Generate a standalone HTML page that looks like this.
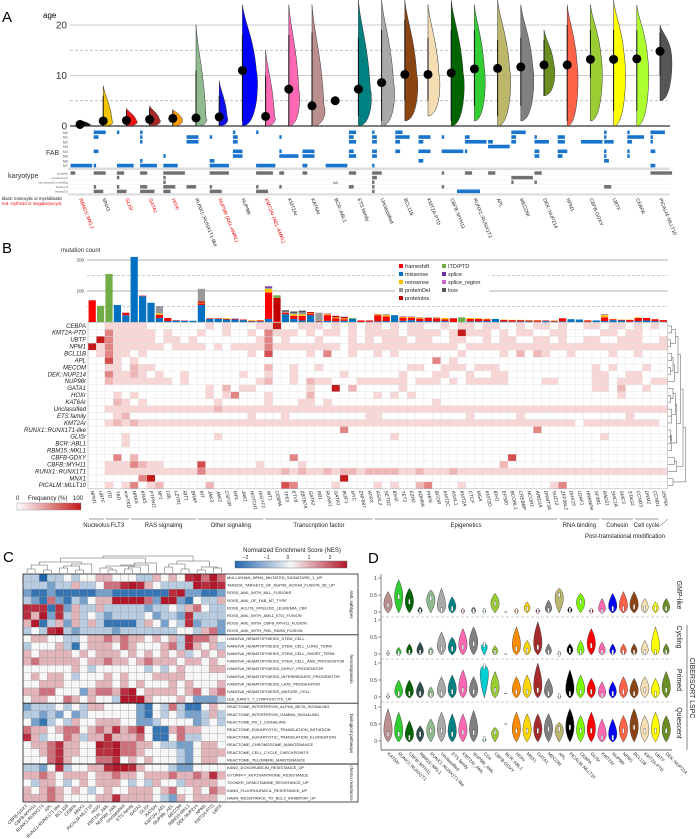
<!DOCTYPE html>
<html><head><meta charset="utf-8"><style>
html,body{margin:0;padding:0;background:#fff;}
svg{display:block;font-family:"Liberation Sans",sans-serif;}
</style></head><body>
<svg id="fig" width="697" height="839" viewBox="0 0 697 839" xmlns="http://www.w3.org/2000/svg"></svg>
<script>
// ---------- Panel A data ----------
const aGroups=["RBM15::MKL1","MNX1","GLISr","GATA1","HOXr","RUNX1::RUNX1T1-like","NUP98r (AEL-AMKL)","NUP98r","KMT2Ar (AEL-AMKL)","KMT2Ar","KAT6Ar","BCR::ABL1","ETS family","Unclassified","BCL11B","KMT2A-PTD","CBFB::MYH11","RUNX1::RUNX1T1","APL","MECOM","DEK::NUP214","NPM1","CBFB-GDXY","UBTF","CEBPA","PICALM::MLLT10"];
const aRed=[1,0,1,1,1,0,1,0,1,0,0,0,0,0,0,0,0,0,0,0,0,0,0,0,0,0];
const aColors=["#111","#f5c400","#ee1111","#a52a2a","#ff9900","#8fbc8f","#1010ee","#0000ff","#ff69b4","#ff69b4","#bc8f8f","#000","#008080","#a9a9a9","#8b4513","#f5deb3","#006400","#32cd32","#bdb76b","#808080","#6b8e23","#ff6347","#9acd32","#ffff00","#adff2f","#555555"];
const aMed=[0.3,1,1.1,1.3,1.5,1.6,1.8,11,1.9,7.3,4,5,7.3,8.6,10.2,10.2,10.5,11.3,11.4,11.7,12.1,12.1,13.2,13.2,13.3,14.8];
const aLo=[0,0,0,0,0,0,0,1,0,0,0,5,2,1,5,5,1,4,2,4,6,1,9.5,3,3,10];
const aHi=[1,6,3,3.5,3,11,6,18,10,18,18.5,5,17.5,19,21,17.5,19,19,17,17.5,17,20,19,19,19,18.5];
const aVlo=[0,0,0,0,0,0,0,0,0,0,0,0,0,0,1,2,0,1,0,1,6,0,1,0,0,5];
const aVhi=[1.2,8,3.5,4,3.3,20,9,24,15,24,24,0,25,25,25,24,25,24,25,24,19,24,24,25,24,20];
const aVw=[10,9,10,10,9,10,8,14,9,10,12,0,12,12,12,11,12,10,12,12,10,10,11,11,11,11];
const fabRows=["M0","M1","M2","M3","M4","M5","M6","M7"];
const fabData=["00000009","52002001","10000007","11100017","00000106","05500000","01000028","12204400","10000008","01001800","00005502","00000009","32302300","12202201","36202000","05205020","01009000","02901000","00290000","62200000","01602200","03304200","00900000","11401120","17201100","61102002"];
const karyRows=["complex","monosomy7","monosomy5 or del(5q)","trisomy 8","trisomy21"];
const karyData=["20000","50014","31014","30036","91153","00040","80015","00000","70015","20010","20000","00000","30020","42111","00000","00000","10010","30000","30000","09100","30100","00000","00000","00030","00000","90000"];
const aTicks=[0,10,20];
// ---------- Panel B data ----------
const bGenes=["NPM1","UBTF","ITD","TKD","nonTKD","NRAS","KRAS","PTPN11","NF1","CBL","LZTR1","RIT1","BRAF","KIT","JAK3","JAK2","CSF3R","MPL","JAK1","NOTCH1","GIGYF2","WT1","CEBPA","TP53","ETV6","ZBTB7A","GATA2","RB1","RUNX1","GATA1","IKZF1","MYC","ZNF687","ATRX","ASXL2","SETD2","IDH2","TET2","EZH2","KDM6A","PHF6","BCOR","KMT2C","ASXL1","KMT2A","CTCF","MGA","KMT2D","IDH1","EP300","BCORL1","CREBBP","NCOR1","ARID1A","DNMT3A","SUZ12","ZFP36L2","DHX15","U2AF1","HNRNPK","SF3B1","RAD21","SMC1A","SMC3","STAG2","CCND3","DNM2","CCND1","USP9X"];
const bMissense=[0,0,0,55,22,210,83,62,13,3,4,4,4,55,10,10,8,8,6,2,2,10,0,25,10,5,22,2,4,2,4,10,0,1,2,3,22,4,6,3,3,2,3,0,0,2,2,3,10,2,1,2,2,1,3,1,2,9,8,1,5,3,6,5,1,3,5,3,1];
const bFrameshift=[70,0,0,0,5,0,2,0,10,10,1,1,0,5,2,2,2,2,2,2,3,85,3,5,10,15,5,2,18,10,5,0,5,4,20,15,0,10,8,8,10,10,6,12,0,8,8,6,0,5,5,4,3,4,2,3,10,0,0,4,0,12,3,2,6,10,8,6,5];
const bNonsense=[0,0,0,0,0,0,0,0,5,0,0,0,0,2,0,0,2,0,0,2,1,12,0,0,5,5,2,1,3,3,3,0,0,0,3,4,0,3,3,3,1,2,4,0,0,3,2,2,0,1,1,1,1,1,0,1,0,0,0,1,0,7,1,1,1,2,0,0,0];
const bProtIns=[0,0,0,0,3,0,0,0,0,0,0,0,0,5,0,0,0,0,0,0,0,0,75,0,0,0,3,0,1,5,4,0,0,0,0,0,0,0,0,0,0,0,0,0,0,0,0,0,0,0,0,0,0,0,0,0,0,0,0,0,0,0,0,0,0,0,0,0,0];
const bProtDel=[0,0,0,0,0,0,0,0,20,0,0,0,0,40,0,0,0,0,0,0,0,3,0,3,4,6,0,25,0,0,0,0,0,0,0,2,0,1,0,0,0,0,0,1,0,0,0,0,0,0,0,0,0,0,0,0,0,0,0,0,0,2,0,0,0,0,0,0,0];
const bLoss=[0,0,0,0,0,0,0,0,0,0,0,0,0,0,0,0,0,0,0,0,0,0,0,5,5,5,0,0,0,0,0,0,0,0,0,0,0,0,0,0,0,0,0,0,0,0,0,0,0,0,0,0,0,0,0,0,0,0,0,0,0,0,0,0,0,0,0,0,0];
const bItd=[0,52,155,0,0,0,0,0,0,0,0,0,0,0,0,0,0,0,0,0,0,0,8,0,0,0,0,0,0,0,0,3,0,0,0,0,0,0,0,0,0,0,0,0,15,0,0,0,0,0,0,0,0,0,0,0,0,0,0,0,0,0,0,0,0,0,0,0,0];
const bSplice=[0,0,0,0,0,0,0,0,2,0,1,0,0,0,0,0,0,1,0,0,0,5,0,0,0,1,0,0,1,0,1,0,0,0,1,1,0,1,1,1,1,1,0,0,0,0,0,0,0,0,0,0,0,0,0,0,0,0,0,0,0,1,0,0,0,0,0,0,0];
const bRows=["CEBPA","KMT2A-PTD","UBTF","NPM1","BCL11B","APL","MECOM","DEK::NUP214","NUP98r","GATA1","HOXr","KAT6Ar","Unclassified","ETS family","KMT2Ar","RUNX1::RUNX1T1-like","GLISr","BCR::ABL1","RBM15::MKL1","CBFB-GDXY","CBFB::MYH11","RUNX1::RUNX1T1","MNX1","PICALM::MLLT10"];
const bFreq=[
"0011111000"+"0000101000"+"1150011101"+"0101101011"+"0010110110"+"0101101001"+"101101010",
"0031111101"+"0001001001"+"0311101011"+"0101111011"+"1101511101"+"0110011000"+"011011000",
"0531111101"+"1010000000"+"1301000100"+"0101011101"+"1001100101"+"1001101001"+"100111001",
"5131111110"+"1111010111"+"1311111111"+"0111111111"+"1111011111"+"1111111111"+"111111111",
"0131101000"+"0000000001"+"0400001030"+"0100101000"+"0000100001"+"0202100100"+"001001000",
"0041010000"+"0000000000"+"0000000000"+"0000000000"+"0301000000"+"0000000000"+"000000000",
"0011021100"+"0000000000"+"0200100100"+"0000000011"+"0011101110"+"0000000000"+"101000100",
"0031121010"+"0100000010"+"0100100000"+"1000000100"+"0110010011"+"0000000000"+"110011000",
"0021111111"+"0100000000"+"1200102110"+"0011111101"+"1101011111"+"0000110000"+"110111011",
"0000000000"+"0000102011"+"0000001005"+"0200000100"+"0000000000"+"0000000000"+"110200100",
"0001010000"+"0000101300"+"0100002000"+"0000101010"+"0000000000"+"0000000000"+"000100000",
"0002101000"+"0000010000"+"0100011010"+"0000000000"+"0100000000"+"0000000000"+"000000000",
"0011111111"+"1111121111"+"1111111111"+"1111111111"+"1111111111"+"1111111111"+"111111111",
"0001200000"+"0000000001"+"0001000000"+"0001100000"+"0000010000"+"0100000000"+"000010000",
"0012121111"+"1111111111"+"1111111111"+"1111111111"+"1111111111"+"1111111101"+"111111110",
"0000000000"+"0000000000"+"0000000000"+"3000000000"+"0000000000"+"0003000000"+"000000000",
"0000100000"+"0000010000"+"0000000000"+"0000001000"+"0000000000"+"0000000000"+"010000000",
"0000100000"+"0000000000"+"0000000000"+"0000000000"+"0000000000"+"0000000000"+"000000000",
"0000000000"+"0000000000"+"0000000000"+"0000000000"+"0000000000"+"0000000000"+"000000000",
"0003020000"+"0000000000"+"0000300000"+"0000000000"+"0000000000"+"4000000000"+"000000000",
"0011132110"+"0004000000"+"1000010000"+"0000000000"+"0000000002"+"0000000000"+"000000000",
"0011111111"+"1113111111"+"1112121121"+"2212222112"+"1112111111"+"1111111111"+"111111111",
"0000003500"+"0000000000"+"0000000000"+"5000000000"+"0000000000"+"0000000000"+"000000000",
"0010130120"+"0000200000"+"0004300001"+"0000101002"+"3000100000"+"0000013000"+"000000000"];
const bCategories=["Nucleolus","FLT3","RAS signaling","Other signaling","Transcription factor","Epigenetics","RNA binding","Cohesin","Cell cycle"];
const bCatStart=[0,2,5,13,21,34,56,61,65];
const bCatEnd=[1,4,12,20,33,55,60,64,67];
const bTicks=[100,200];
const bRowDendro=[3,6,2,8,3,4,2,5,10,4,2,6,3,3,7,2,2,3,12,5,7,14,4];
// ---------- Panel C data ----------
const cCols=["CBFB-GDXY","CBFB-MYH11","RUNX1-RUNX1T1","APL","RUNX1-RUNX1T1-like","BCL11B","CEBPA","MNX1","PICALM-MLLT10","HOXr","KMT2Ar_AML","NUP98r_AML","Unclassified","ETS family","GATA1","GLISr","KAT6Ar","KMT2Ar_AEL","NUP98r_AEL","MECOM","RBM15-MKL1","DEK-NUP214","NPM1","KMT2A-PTD","UBTF"];
const cRows=["MULLIGHAN_NPM1_MUTATED_SIGNATURE_1_UP","TAKEDA_TARGETS_OF_NUP98_HOXA9_FUSION_3D_UP","ROSS_AML_WITH_MLL_FUSIONS","ROSS_AML_OF_FAB_M7_TYPE","ROSS_ACUTE_MYELOID_LEUKEMIA_CBF","ROSS_AML_WITH_AML1_ETO_FUSION","ROSS_AML_WITH_CBFB_MYH11_FUSION","ROSS_AML_WITH_PML_RARA_FUSION","IVANOVA_HEMATOPOIESIS_STEM_CELL","IVANOVA_HEMATOPOIESIS_STEM_CELL_LONG_TERM","IVANOVA_HEMATOPOIESIS_STEM_CELL_SHORT_TERM","IVANOVA_HEMATOPOIESIS_STEM_CELL_AND_PROGENITOR","IVANOVA_HEMATOPOIESIS_EARLY_PROGENITOR","IVANOVA_HEMATOPOIESIS_INTERMEDIATE_PROGENITOR","IVANOVA_HEMATOPOIESIS_LATE_PROGENITOR","IVANOVA_HEMATOPOIESIS_MATURE_CELL","LEE_EARLY_T_LYMPHOCYTE_UP","REACTOME_INTERFERON_ALPHA_BETA_SIGNALING","REACTOME_INTERFERON_GAMMA_SIGNALING","REACTOME_PD_1_SIGNALING","REACTOME_EUKARYOTIC_TRANSLATION_INITIATION","REACTOME_EUKARYOTIC_TRANSLATION_ELONGATION","REACTOME_CHROMOSOME_MAINTENANCE","REACTOME_CELL_CYCLE_CHECKPOINTS","REACTOME_TELOMERE_MAINTENANCE","KANG_DOXORUBICIN_RESISTANCE_UP","GYORFFY_MITOXANTRONE_RESISTANCE","TOOKER_GEMCITABINE_RESISTANCE_UP","KANG_FLUOROURACIL_RESISTANCE_UP","HANN_RESISTANCE_TO_BCL2_INHIBITOR_UP"];
// NES coded 0..8 -> (d-4)*0.6
const cNes=["3303343445544433545478686","3332335334667875433338787","2112111112211111117822112","3216213245588886288214335","7771725335333332334356433","7582735343233334233273333","5813525353111135424372332","3437832333323333333443562","4554433455656554545376654","3444531455546544456375453","5455554545554545454534545","5655555455655456555455454","4444445434444443434544455","4545543444545444555544444","4455544445545454445454445","5566444256657845555456456","4554465454438885444542223","2333434355444421436311454","3323242344444421434322353","4213435445554422344442343","6554566456575674115655444","7534465355755564114633444","4556755448786655433224554","4456755447786654444324555","4446754446674545444324554","3324734455788754443224444","5565455545565545556556575","4355434545554343544355554","5456545434544555456445465","5556544445575555432545554"];
const cGroups=["AML subtypes","hematopoiesis","biological pathways","chemo resistance"];
const cGroupStart=[0,8,17,25];
const cGroupEnd=[7,16,24,29];
const cColDendro=[4,8,3,11,5,7,3,9,15,5,3,7,4,6,8,10,17,6,9,4,12,3,6,5];
const cTicks=[-2,-1,0,1,2];
// ---------- Panel D data ----------
const dGroups=["KAT6Ar","RUNX1::RUNX1T1","CBFB::MYH11","RBM15::MKL1","RUNX1::RUNX1T1-like","Unclassified","ETS family","KMT2Ar_AML","NUP98r_AML","CD4","CBFB-GDXY","BCR::ABL1","HOXr","MNX1","GATA1","MECOM","APL","PICALM::MLLT10","CEBPA","GLISr","KMT2Ar","NUP98r","NPM1","BCL11B","KMT2A-PTD","UBTF","DEK::NUP214"];
const dColors=["#bc8f8f","#32cd32","#006400","#2f4f4f","#8fbc8f","#a9a9a9","#008080","#ff69b4","#808080","#00ced1","#9acd32","#000","#ff8c00","#ffd700","#a52a2a","#808080","#bdb76b","#000000","#7cfc00","#ff0000","#ff69b4","#0000ff","#ff6347","#8b4513","#f5deb3","#ffff00","#6b8e23"];
const dStates=["GMP-like","Cycling","Primed","Quiescent"];
const dTopGMP=[0.6,0.95,0.7,0.15,0.65,0.7,0.45,0.1,0.15,0.06,0.55,0,0.1,0.3,0.1,0.35,0.7,0.15,0.55,0.1,0.4,0.55,0.6,0.6,0.4,0.3,0.4];
const dMedGMP=[0.2,0.45,0.3,0.02,0.4,0.05,0.1,0.02,0.02,0.04,0.25,0,0.02,0.1,0.02,0.05,0.5,0.05,0.3,0.02,0.02,0.1,0.1,0.15,0.1,0.1,0.1];
const dTopCyc=[0.05,0.2,0.3,0.35,0.2,0.65,0.5,0.75,0.8,0.3,0.25,0,0.8,0.4,0.95,0.3,0.05,0.3,0.4,0.75,0.35,0.3,0.3,0.3,0.4,0.8,0.3];
const dMedCyc=[0.02,0.02,0.05,0.05,0.05,0.15,0.15,0.2,0.3,0.27,0.05,0,0.15,0.1,0.2,0.05,0.01,0.1,0.05,0.25,0.05,0.05,0.05,0.05,0.05,0.05,0.05];
const dTopPri=[0.05,0.5,0.5,0.45,0.3,0.6,0.65,0.8,0.6,0.92,0.75,0,0.6,0.65,1.0,0.55,0.05,0.8,0.65,0.55,0.45,0.45,0.6,0.55,0.6,0.55,0.75];
const dMedPri=[0.02,0.1,0.1,0.1,0.05,0.1,0.15,0.2,0.15,0.9,0.2,0.1,0.15,0.15,0.2,0.1,0.02,0.1,0.15,0.15,0.05,0.1,0.15,0.1,0.2,0.1,0.2];
const dTopQui=[0.95,0.85,0.6,0.45,0.65,0.85,0.8,0.8,0.9,0.07,0.4,0,0.85,0.8,0.8,0.8,0.55,0.95,0.75,0.85,0.65,0.65,0.75,0.95,0.75,0.85,0.75];
const dMedQui=[0.2,0.2,0.1,0.2,0.3,0.3,0.2,0.25,0.25,0.05,0.25,0.5,0.3,0.3,0.3,0.35,0.35,0.4,0.3,0.3,0.1,0.1,0.3,0.4,0.3,0.3,0.3];
const dTicks=[0,0.5,1];

// ---------- helpers ----------
const NS="http://www.w3.org/2000/svg";
const svg=document.getElementById("fig");
function mk(tag,attrs,parent){const e=document.createElementNS(NS,tag);for(const k in attrs)e.setAttribute(k,attrs[k]);(parent||svg).appendChild(e);return e;}
function tx(str,x,y,size,attrs,parent){const t=mk("text",Object.assign({x:x,y:y,"font-size":size},attrs||{}),parent);t.textContent=str;return t;}
function grp(name){const g=mk("g",{});return g;}

// ---------- Panel A ----------
const gA=grp("panel-a-age-violins");
let t=tx("A",2,22,15,{},gA);


const ay=v=>126-5.05*v;
const ax=i=>80+23.2*i;
t=tx("age",43,18,8,{},gA);


[5,15].forEach(v=>mk("line",{x1:70,x2:670,y1:ay(v),y2:ay(v),stroke:"#aaa","stroke-dasharray":"3,2","stroke-width":0.7},gA));
aTicks.forEach(v=>{
  mk("line",{x1:70,x2:670,y1:ay(v),y2:ay(v),stroke:v===0?"#555":"#bbb","stroke-width":v===0?1.5:0.8},gA);
  const l=tx(String(v),67,ay(v)+3.5,10,{"text-anchor":"end",fill:"#333"},gA);
  
  
});
aGroups.forEach((g,i)=>{
  const x=ax(i);
  if(aVw[i]>0){
    const y0=ay(aVlo[i]),y1=Math.max(0,ay(aVhi[i])),ym=ay(aMed[i]);
    const w=aVw[i];
    const p=mk("path",{d:`M${x},${y0} C${x+w*1.1},${y0} ${x+w*1.2},${ym+ (y0-ym)*0.2} ${x+w},${ym} C${x+w*0.8},${(ym+y1)/2} ${x+w*0.2},${y1+ (ym-y1)*0.3} ${x},${y1} Z`,fill:aColors[i],stroke:"#333","stroke-width":0.5},gA);
    
    
  }
  const wl=mk("line",{x1:x,x2:x,y1:ay(aLo[i]),y2:ay(aHi[i]),stroke:"#111","stroke-width":1},gA);
  
  
  const c=mk("circle",{cx:x,cy:ay(aMed[i]),r:4.5,fill:"#000"},gA);
  
  
});
// FAB
const gF=grp("fab-track");
t=tx("FAB",46,155,7,{fill:"#333"},gF);


fabRows.forEach((r,k)=>{tx(r,68,133.8+4.75*k,3.6,{"text-anchor":"end",fill:"#555"},gF);});
fabData.forEach((s,i)=>{for(let k=0;k<8;k++){const v=+s[k];if(v>0){const b=mk("rect",{x:ax(i)-9.5,y:130.5+4.75*k,width:v*2.4,height:3.6,fill:"#1874cd"},gF);}}});
mk("rect",{x:68,y:167.5,width:602,height:2.5,fill:"#ddd"},gF);
// karyotype
const gK=grp("karyotype-track");
t=tx("karyotype",8,178,7,{fill:"#333"},gK);


karyRows.forEach((r,k)=>{tx(r,68,174.3+4.6*k,3,{"text-anchor":"end",fill:"#555"},gK);mk("line",{x1:68,x2:670,y1:175+4.6*k,y2:175+4.6*k,stroke:"#eee","stroke-width":0.5},gK);});
karyData.forEach((s,i)=>{for(let k=0;k<5;k++){const v=+s[k];if(v>0){const b=mk("rect",{x:ax(i)-9.5,y:171.3+4.6*k,width:v*2.4,height:3.4,fill:"#707070"},gK);}}});
mk("rect",{x:457,y:189.5,width:23,height:3.6,fill:"#1874cd"},gK);
tx("NA",333,184,3.5,{fill:"#333"},gK);
mk("rect",{x:68,y:193.5,width:602,height:2,fill:"#ddd"},gK);
tx("black: monocytic or myeloblastic",2,200,4.2,{fill:"#111"},gK);
tx("red: erythroid or megakaryocytic",2,205,4.2,{fill:"#e00"},gK);
aGroups.forEach((g,i)=>{const x=ax(i)-1;const l=tx(g,x,199,5,{transform:`rotate(68 ${x} 199)`,fill:aRed[i]?"#e00":"#222","font-style":aRed[i]?"italic":"normal"},gK);});

// ---------- Panel B ----------
const gB=grp("panel-b-mutations");
t=tx("B",2,253,15,{},gB);


t=tx("mutation count",61,252,6,{fill:"#333"},gB);


const by=v=>322-0.31*v;
const bx=j=>88+8.4*j;
[50,150].forEach(v=>mk("line",{x1:87,x2:668,y1:by(v),y2:by(v),stroke:"#999","stroke-dasharray":"3,2","stroke-width":0.6},gB));
bTicks.forEach(v=>{mk("line",{x1:87,x2:668,y1:by(v),y2:by(v),stroke:"#999","stroke-width":0.7},gB);tx(String(v),84,by(v)+1.5,4.5,{"text-anchor":"end",fill:"#333"},gB);});
const bSeries=[bMissense,bFrameshift,bNonsense,bProtIns,bProtDel,bLoss,bItd,bSplice];
const bSeriesCol=["#0070c0","#ff0000","#ffc000","#c00000","#999999","#555555","#70ad47","#7030a0"];
bGenes.forEach((g,j)=>{let acc=0;bSeries.forEach((s,k)=>{if(s[j]>0){const r=mk("rect",{x:bx(j)+0.6,y:by(acc+s[j]),width:7.2,height:0.31*s[j],fill:bSeriesCol[k]},gB);acc+=s[j];}});});
// legend
const gL=grp("mutation-legend");
mk("rect",{x:395,y:262,width:94,height:40,fill:"#fff"},gL);
const legNames=[["frameshift","#ff0000"],["missense","#0070c0"],["nonsense","#ffc000"],["proteinDel","#999999"],["proteinIns","#c00000"],["ITD/PTD","#70ad47"],["splice","#7030a0"],["splice_region","#cc66cc"],["loss","#555555"]];
legNames.forEach((n,k)=>{const col=k<5?0:1,row=k<5?k:k-5;const x=399+col*43,y=264+row*8;const e=mk("g",{},gL);mk("rect",{x:x,y:y,width:4,height:4,fill:n[1]},e);tx(n[0],x+6,y+4,5.5,{fill:"#222"},e);});
// heatmap
const gH=grp("mutation-frequency-heatmap");
const lev=["#ffffff","#f8d6d6","#f0b6b6","#e48585","#d64e4e","#c41a1a"];
bRows.forEach((r,ri)=>{const y=322.5+6.93*ri;const s=bFreq[ri];for(let j=0;j<69;j++){const v=+(s[j]||0);const c=mk("rect",{x:bx(j),y:y,width:8.4,height:6.93,fill:lev[v],stroke:"#ddd","stroke-width":0.3},gH);}
 const l=tx(r,86,y+5.3,6,{"text-anchor":"end","font-style":"italic",fill:"#222"},gH);});
mk("rect",{x:88,y:322.5,width:69*8.4,height:24*6.93,fill:"none",stroke:"#aaa","stroke-width":0.5},gH);
bGenes.forEach((g,j)=>{const x=bx(j)+2.5;const l=tx(g,x,491,4.8,{transform:`rotate(78 ${x} 491)`,"font-style":"italic",fill:"#222"},gH);});
bCategories.forEach((c,k)=>{const x1=bx(bCatStart[k])+1,x2=bx(bCatEnd[k]+1)-1;mk("line",{x1:x1,x2:x2,y1:519,y2:519,stroke:"#333","stroke-width":0.5},gH);const l=tx(c,(x1+x2)/2,527,6,{"text-anchor":"middle",fill:"#222"},gH);});
mk("line",{x1:660,x2:668,y1:526,y2:519,stroke:"#333","stroke-width":0.5},gH);
tx("Post-translational modification",665,538,6,{"text-anchor":"end",fill:"#222"},gH);
// freq colorbar
const defs=mk("defs",{});
const lg=mk("linearGradient",{id:"pk",x1:0,x2:1,y1:0,y2:0},defs);
mk("stop",{offset:0,"stop-color":"#fff"},lg);mk("stop",{offset:1,"stop-color":"#c41a1a"},lg);
const lg2=mk("linearGradient",{id:"nes",x1:0,x2:1,y1:0,y2:0},defs);
[["0","#2166ac"],["0.5","#f7f7f7"],["1","#b2182b"]].forEach(s=>mk("stop",{offset:s[0],"stop-color":s[1]},lg2));
tx("0",16,500,6,{fill:"#222"},gH);tx("Frequency (%)",28,500,6,{fill:"#222"},gH);tx("100",73,500,6,{fill:"#222"},gH);
const cb=mk("rect",{x:17,y:503,width:64,height:7,fill:"url(#pk)",stroke:"#888","stroke-width":0.4},gH);


// dendrogram helper
function dendro(H,leafPos,base,scale,horizontal,parent){
  function build(l,r){if(l===r)return{p:leafPos(l),h:0};let k=l;for(let q=l;q<r;q++)if(H[q]>H[k])k=q;const a=build(l,k),b=build(k+1,r);const hh=H[k]*scale;
    if(horizontal){mk("polyline",{points:`${base+a.h},${a.p} ${base+hh},${a.p} ${base+hh},${b.p} ${base+b.h},${b.p}`,fill:"none",stroke:"#555","stroke-width":0.5},parent);}
    else{mk("polyline",{points:`${a.p},${base-a.h} ${a.p},${base-hh} ${b.p},${base-hh} ${b.p},${base-b.h}`,fill:"none",stroke:"#555","stroke-width":0.5},parent);}
    return{p:(a.p+b.p)/2,h:hh};}
  build(0,H.length);
}
const gBD=grp("row-dendrogram");
dendro(bRowDendro,i=>322.5+6.93*i+3.5,668,1.25,true,gBD);

// ---------- Panel C ----------
const gC=grp("panel-c-nes-heatmap");
t=tx("C",3,562,15,{},gC);


function nesColor(v){v=Math.max(-2,Math.min(2,v));const a=[33,102,172],w=[247,247,247],r=[178,24,43];const f=Math.abs(v)/2;const e=v<0?a:r;return`rgb(${e.map((c,i)=>Math.round(w[i]+(c-w[i])*f)).join(",")})`;}
const cx0=23,cw=8.1,cy0=574,ch=7.6;
cNes.forEach((s,ri)=>{for(let j=0;j<25;j++){const v=(+s[j]-4)*0.6;const c=mk("rect",{x:cx0+cw*j,y:cy0+ch*ri,width:cw,height:ch,fill:nesColor(v),stroke:"#999","stroke-width":0.3},gC);}
 const l=tx(cRows[ri],227,cy0+ch*ri+5,4,{fill:"#222"},gC);});
mk("rect",{x:cx0,y:cy0,width:335,height:30*ch,fill:"none",stroke:"#222","stroke-width":0.8},gC);
cGroupStart.forEach((s,k)=>{if(k>0)mk("line",{x1:cx0,x2:358,y1:cy0+ch*s,y2:cy0+ch*s,stroke:"#222","stroke-width":0.9},gC);const yc=cy0+ch*(s+cGroupEnd[k]+1)/2;const l=tx(cGroups[k],350,yc,4.5,{transform:`rotate(90 350 ${yc})`,"text-anchor":"middle",fill:"#222"},gC);});
cCols.forEach((c,j)=>{const x=cx0+cw*j+5;const l=tx(c,x,806,4.5,{transform:`rotate(-45 ${x} 806)`,"text-anchor":"end",fill:"#222"},gC);});
dendro(cColDendro,j=>cx0+cw*j+cw/2,573,1.0,false,gC);
const nb=mk("rect",{x:235,y:561,width:112,height:7,fill:"url(#nes)",stroke:"#666","stroke-width":0.4},gC);


cTicks.forEach(v=>{tx(v<0?"\u2212"+(-v):String(v),235+112*(v+2.5)/5.3,559,5,{"text-anchor":"middle",fill:"#222"},gC);});
t=tx("Normalized Enrichment Score (NES)",292,552,6,{"text-anchor":"middle",fill:"#222"},gC);



// ---------- Panel D ----------
const gD=grp("panel-d-lspc-violins");
t=tx("D",368,563,15,{},gD);


const dZero=[612,654,697,741];
const dUnit=34;
const dx=i=>388+10.7*i;
const dTop=[dTopGMP,dTopCyc,dTopPri,dTopQui];
const dMed=[dMedGMP,dMedCyc,dMedPri,dMedQui];
mk("line",{x1:381,x2:381,y1:574,y2:750,stroke:"#333","stroke-width":0.6},gD);
mk("line",{x1:381,x2:672,y1:750,y2:750,stroke:"#333","stroke-width":0.8},gD);
dStates.forEach((st,s)=>{
  const z=dZero[s];
  if(s<3)mk("line",{x1:381,x2:672,y1:z+5,y2:z+5,stroke:"#999","stroke-dasharray":"3,2","stroke-width":0.6},gD);
  dTicks.forEach(v=>{tx(String(v),377,z-v*dUnit+1.8,5,{"text-anchor":"end",fill:"#333"},gD);mk("line",{x1:378,x2:381,y1:z-v*dUnit,y2:z-v*dUnit,stroke:"#333","stroke-width":0.5},gD);});
  const yc=[595,637,680,723][s];
  const l=tx(st,677,yc,7,{transform:`rotate(90 677 ${yc})`,"text-anchor":"middle",fill:"#222"},gD);
  
  
  dGroups.forEach((g,i)=>{
    const x=dx(i),top=dTop[s][i],med=dMed[s][i];
    if(top<=0){mk("line",{x1:x-1.5,x2:x+1.5,y1:z-med*dUnit,y2:z-med*dUnit,stroke:"#333","stroke-width":0.6},gD);return;}
    const y0=z+1,yt=z-top*dUnit,ym=z-med*dUnit;
    const w=Math.min(4.2,1.5+top*5);
    const p=mk("path",{d:`M${x},${y0} Q${x+2*w},${ym} ${x},${yt} Q${x-2*w},${ym} ${x},${y0} Z`,fill:dColors[i],stroke:"#333","stroke-width":0.4},gD);
    
    
    mk("rect",{x:x-0.9,y:ym-2.5,width:1.8,height:5,fill:"#fff",stroke:"#333","stroke-width":0.3},gD);
  });
});
mk("line",{x1:687,x2:687,y1:625,y2:750,stroke:"#333","stroke-width":0.6},gD);
t=tx("CIBERSORT LSPC",690,688,7,{transform:"rotate(90 690 688)","text-anchor":"middle",fill:"#222"},gD);


dGroups.forEach((g,i)=>{const x=dx(i)-1;const l=tx(g,x,754,4.5,{transform:`rotate(45 ${x} 754)`,fill:"#222"},gD);});
</script>
</body></html>
